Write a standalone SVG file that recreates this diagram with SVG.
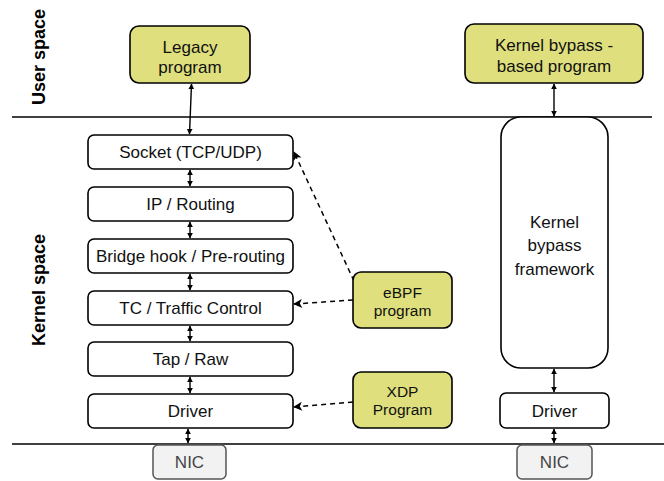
<svg xmlns="http://www.w3.org/2000/svg" width="664" height="481" viewBox="0 0 664 481">
  <defs>
    <marker id="head" viewBox="0 0 10 10" refX="9" refY="5" markerWidth="6" markerHeight="6" orient="auto-start-reverse" markerUnits="userSpaceOnUse">
      <path d="M0,0 L10,5 L0,10 Z" fill="#000"/>
    </marker>
    <marker id="dhead" viewBox="0 0 10 10" refX="9" refY="5" markerWidth="11" markerHeight="9" orient="auto" markerUnits="userSpaceOnUse">
      <path d="M0,0 L10,5 L0,10 L2.5,5 Z" fill="#000"/>
    </marker>
  </defs>
  <style>
    text { font-family: "Liberation Sans", Arial, Helvetica, sans-serif; fill: #111; text-anchor: middle; }
    .box { fill: #fff; stroke: #000; stroke-width: 1.6; }
    .prog { fill: #dfe07d; stroke: #000; stroke-width: 1.6; }
    .nic { fill: #f2f2f2; stroke: #555; stroke-width: 1.5; }
    .t { font-size: 17px; }
    .ts { font-size: 15.5px; }
    .nict { font-size: 17px; fill: #444; }
    .side { font-size: 18px; font-weight: bold; fill: #000; }
    .sep { stroke: #000; stroke-width: 1.3; }
    .link { stroke: #000; stroke-width: 1.4; fill: none; marker-start: url(#head); marker-end: url(#head); }
    .hook { stroke: #000; stroke-width: 1.5; fill: none; stroke-dasharray: 5 4; marker-end: url(#dhead); }
  </style>

  <rect width="664" height="481" fill="#fff"/>

  <!-- user / kernel boundary and hardware boundary -->
  <line class="sep" x1="12" y1="117" x2="652" y2="117"/>
  <line class="sep" x1="12" y1="444" x2="664" y2="444"/>

  <!-- region labels -->
  <text class="side" transform="translate(45,57) rotate(-90)">User space</text>
  <text class="side" transform="translate(45,290) rotate(-90)">Kernel space</text>

  <!-- connectors -->
  <g id="connectors">
    <line class="link" x1="191.5" y1="84" x2="189.5" y2="134"/>
    <line class="link" x1="190" y1="170" x2="190" y2="186"/>
    <line class="link" x1="190" y1="222" x2="190" y2="238"/>
    <line class="link" x1="190" y1="274" x2="190" y2="290"/>
    <line class="link" x1="190" y1="326" x2="190" y2="341"/>
    <line class="link" x1="190" y1="377" x2="190" y2="393"/>
    <line class="link" x1="188" y1="429" x2="188" y2="443"/>
    <line class="link" x1="554" y1="84" x2="554" y2="116"/>
    <line class="link" x1="554" y1="369" x2="554" y2="392"/>
    <line class="link" x1="554" y1="429" x2="554" y2="443"/>
    <line class="hook" x1="354" y1="281" x2="294" y2="152"/>
    <line class="hook" x1="353" y1="300" x2="294" y2="304"/>
    <line class="hook" x1="353" y1="402" x2="294" y2="407"/>
  </g>

  <!-- user space programs -->
  <g id="legacy">
    <rect class="prog" x="130" y="26" width="120" height="57" rx="9"/>
    <text class="t" x="190" y="53">Legacy</text>
    <text class="t" x="190" y="73">program</text>
  </g>
  <g id="bypass-program">
    <rect class="prog" x="465" y="24" width="178" height="59" rx="9"/>
    <text class="t" x="554" y="51">Kernel bypass -</text>
    <text class="t" x="554" y="72">based program</text>
  </g>

  <!-- kernel network stack -->
  <g id="socket">
    <rect class="box" x="88" y="135" width="205" height="34" rx="6"/>
    <text class="t" x="190.5" y="158">Socket (TCP/UDP)</text>
  </g>
  <g id="ip">
    <rect class="box" x="88" y="187" width="205" height="34" rx="6"/>
    <text class="t" x="190.5" y="210">IP / Routing</text>
  </g>
  <g id="bridge">
    <rect class="box" x="88" y="239" width="205" height="34" rx="6"/>
    <text class="t" x="190.5" y="262">Bridge hook / Pre-routing</text>
  </g>
  <g id="tc">
    <rect class="box" x="88" y="291" width="205" height="34" rx="6"/>
    <text class="t" x="190.5" y="314">TC / Traffic Control</text>
  </g>
  <g id="tap">
    <rect class="box" x="88" y="342" width="205" height="34" rx="6"/>
    <text class="t" x="190.5" y="365">Tap / Raw</text>
  </g>
  <g id="driver">
    <rect class="box" x="88" y="394" width="205" height="34" rx="6"/>
    <text class="t" x="190.5" y="417">Driver</text>
  </g>

  <!-- eBPF hooks -->
  <g id="ebpf">
    <rect class="prog" x="353" y="272" width="99" height="56" rx="8"/>
    <text class="ts" x="402.5" y="298">eBPF</text>
    <text class="ts" x="402.5" y="316">program</text>
  </g>
  <g id="xdp">
    <rect class="prog" x="353" y="372" width="99" height="56" rx="8"/>
    <text class="ts" x="402.5" y="397">XDP</text>
    <text class="ts" x="402.5" y="415">Program</text>
  </g>

  <!-- kernel bypass path -->
  <g id="framework">
    <rect class="box" x="501" y="117" width="107" height="251" rx="20"/>
    <text class="t" x="554.5" y="228">Kernel</text>
    <text class="t" x="554.5" y="251">bypass</text>
    <text class="t" x="554.5" y="275">framework</text>
  </g>
  <g id="bypass-driver">
    <rect class="box" x="500" y="393" width="109" height="35" rx="6"/>
    <text class="t" x="554.5" y="417">Driver</text>
  </g>

  <!-- network cards -->
  <g id="nic-left">
    <rect class="nic" x="153" y="445" width="73" height="34" rx="5"/>
    <text class="nict" x="189.5" y="468">NIC</text>
  </g>
  <g id="nic-right">
    <rect class="nic" x="517" y="445" width="75" height="34" rx="5"/>
    <text class="nict" x="554.5" y="468">NIC</text>
  </g>
</svg>
